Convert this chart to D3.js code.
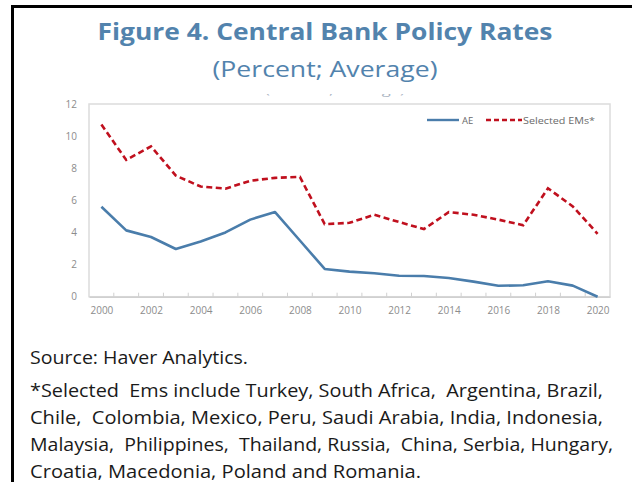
<!DOCTYPE html>
<html>
<head>
<meta charset="utf-8">
<script src="https://cdn.jsdelivr.net/npm/d3@7"></script>
<style>
  html, body { margin: 0; padding: 0; background: #fff; }
  svg { display: block; }
</style>
</head>
<body>
<svg id="chart" width="632" height="482"></svg>
<script>
// Central bank policy rates, annual averages (percent)
const years = [2000, 2001, 2002, 2003, 2004, 2005, 2006, 2007, 2008, 2009, 2010,
               2011, 2012, 2013, 2014, 2015, 2016, 2017, 2018, 2019, 2020];
const aeRates = [5.6, 4.13, 3.72, 2.97, 3.44, 4.0, 4.8, 5.27, 3.5, 1.73, 1.56,
                 1.46, 1.3, 1.29, 1.16, 0.94, 0.68, 0.71, 0.96, 0.69, 0.0];
const emRates = [10.72, 8.52, 9.36, 7.54, 6.86, 6.73, 7.22, 7.4, 7.46, 4.52, 4.6,
                 5.1, 4.65, 4.21, 5.27, 5.1, 4.8, 4.45, 6.75, 5.62, 3.92];
const yTicks = [0, 2, 4, 6, 8, 10, 12];
const xTickYears = [2000, 2002, 2004, 2006, 2008, 2010, 2012, 2014, 2016, 2018, 2020];
const seriesNames = ["AE", "Selected EMs*"];

const title = "Figure 4. Central Bank Policy Rates";
const subtitle = "(Percent; Average)";
const sourceNote = "Source: Haver Analytics.";
const footnoteLines = [
  "*Selected  Ems include Turkey, South Africa,  Argentina, Brazil,",
  "Chile,  Colombia, Mexico, Peru, Saudi Arabia, India, Indonesia,",
  "Malaysia,  Philippines,  Thailand, Russia,  China, Serbia, Hungary,",
  "Croatia, Macedonia, Poland and Romania."
];

const svg = d3.select("#chart");
const FONT = "'Open Sans', 'Noto Sans', sans-serif";
const BLUE = "#4a7dab";
const RED = "#c0101e";
const TITLE_BLUE = "#5283ad";

// Box border (top and left edges)
svg.append("rect").attr("x", 11).attr("y", 5).attr("width", 632).attr("height", 3).attr("fill", "#000");
svg.append("rect").attr("x", 11).attr("y", 5).attr("width", 3).attr("height", 482).attr("fill", "#000");

// Titles
svg.append("text").attr("x", 325).attr("y", 40)
  .attr("text-anchor", "middle").attr("font-family", FONT).attr("font-weight", 700)
  .attr("font-size", 23).attr("fill", TITLE_BLUE)
  .attr("textLength", 455).attr("lengthAdjust", "spacingAndGlyphs")
  .text(title);
svg.append("text").attr("x", 325).attr("y", 77)
  .attr("text-anchor", "middle").attr("font-family", FONT)
  .attr("font-size", 21).attr("fill", TITLE_BLUE)
  .attr("textLength", 225).attr("lengthAdjust", "spacingAndGlyphs")
  .text(subtitle);

// Partly hidden subtitle inside the chart image
svg.append("clipPath").attr("id", "ghostClip")
  .append("rect").attr("x", 0).attr("y", 94).attr("width", 632).attr("height", 6);
svg.append("text").attr("x", 335).attr("y", 94)
  .attr("text-anchor", "middle").attr("font-family", FONT)
  .attr("font-size", 10).attr("fill", "#a9b3bf")
  .attr("textLength", 140).attr("lengthAdjust", "spacingAndGlyphs")
  .attr("clip-path", "url(#ghostClip)")
  .text(subtitle);

// Plot area
const plot = { left: 89, right: 610, top: 104, bottom: 296.7 };
const x = d3.scalePoint().domain(years).range([plot.left, plot.right]).padding(0.5);
const y = d3.scaleLinear().domain([0, 12]).range([plot.bottom, plot.top]);

// Frame
svg.append("rect")
  .attr("x", plot.left).attr("y", plot.top)
  .attr("width", plot.right - plot.left).attr("height", plot.bottom - plot.top)
  .attr("fill", "none").attr("stroke", "#dcdcdc").attr("stroke-width", 1.5);

// Y axis labels
const yAxis = d3.axisLeft(y).tickValues(yTicks).tickSize(0).tickPadding(12);
const gy = svg.append("g").attr("transform", `translate(${plot.left},0)`).call(yAxis);
gy.select(".domain").remove();
gy.selectAll("text").attr("font-family", FONT).attr("font-size", 10).attr("fill", "#8c8c8c");

// X axis: labels every other year, small ticks between categories
const xAxis = d3.axisBottom(x).tickValues(xTickYears).tickSize(0).tickPadding(10).tickFormat(d3.format("d"));
const gx = svg.append("g").attr("transform", `translate(0,${plot.bottom})`).call(xAxis);
gx.select(".domain").attr("stroke", "#d0d0d0").attr("stroke-width", 1.5);
gx.selectAll("text").attr("font-family", FONT).attr("font-size", 10).attr("fill", "#8c8c8c");

const step = x.step();
svg.append("g").selectAll("line")
  .data(years.slice(0, -1))
  .join("line")
  .attr("x1", d => x(d) + step / 2).attr("x2", d => x(d) + step / 2)
  .attr("y1", plot.bottom).attr("y2", plot.bottom - 4)
  .attr("stroke", "#d0d0d0").attr("stroke-width", 1);

// Lines
const line = d3.line().x((d, i) => x(years[i])).y(d => y(d));
svg.append("path").datum(aeRates)
  .attr("d", line).attr("fill", "none")
  .attr("stroke", BLUE).attr("stroke-width", 2.6).attr("stroke-linejoin", "round");
svg.append("path").datum(emRates)
  .attr("d", line).attr("fill", "none")
  .attr("stroke", RED).attr("stroke-width", 2.6).attr("stroke-dasharray", "6,3.5");

// Legend
const legend = svg.append("g").attr("font-family", FONT).attr("font-size", 9.5).attr("fill", "#6b6b6b");
legend.append("line").attr("x1", 427).attr("x2", 459).attr("y1", 120).attr("y2", 120)
  .attr("stroke", BLUE).attr("stroke-width", 2.4);
legend.append("text").attr("x", 462).attr("y", 123.5).text(seriesNames[0]);
legend.append("line").attr("x1", 486).attr("x2", 522).attr("y1", 120).attr("y2", 120)
  .attr("stroke", RED).attr("stroke-width", 2.4).attr("stroke-dasharray", "5,3");
legend.append("text").attr("x", 523).attr("y", 123.5)
  .attr("textLength", 72).attr("lengthAdjust", "spacingAndGlyphs").text(seriesNames[1]);

// Notes
svg.append("text").attr("x", 30).attr("y", 364)
  .attr("font-family", FONT).attr("font-size", 18).attr("fill", "#1a1a1a")
  .attr("textLength", 218).attr("lengthAdjust", "spacingAndGlyphs")
  .text(sourceNote);
const noteWidths = [573, 573, 583, 391];
svg.append("g").selectAll("text")
  .data(footnoteLines)
  .join("text")
  .attr("x", 30).attr("y", (d, i) => 397 + i * 27)
  .attr("font-family", FONT).attr("font-size", 18).attr("fill", "#1a1a1a")
  .attr("textLength", (d, i) => noteWidths[i]).attr("lengthAdjust", "spacingAndGlyphs")
  .attr("xml:space", "preserve")
  .text(d => d);
</script>
</body>
</html>
